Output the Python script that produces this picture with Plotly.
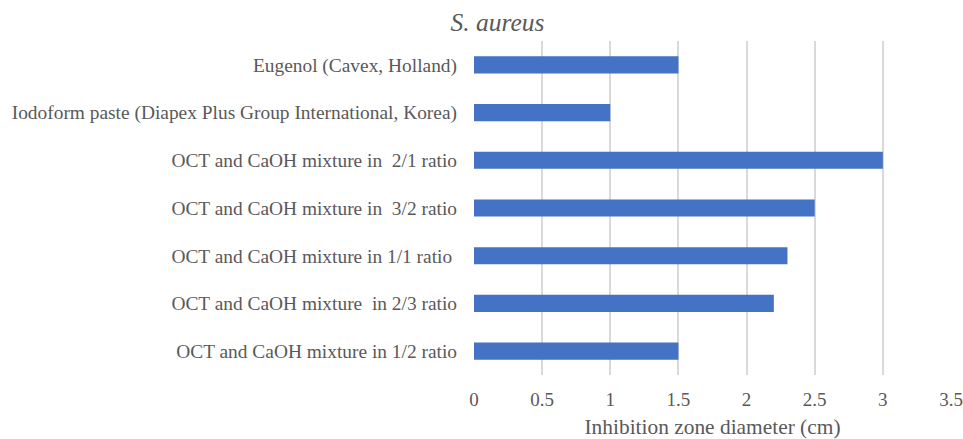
import plotly.graph_objects as go

NB = "\u00a0"
categories = [
    NB + "OCT and CaOH mixture in 1/2 ratio",
    "OCT and CaOH mixture" + NB + NB + "in 2/3 ratio",
    "OCT and CaOH mixture in 1/1 ratio" + NB,
    "OCT and CaOH mixture in" + NB + NB + "3/2 ratio",
    "OCT and CaOH mixture in" + NB + NB + "2/1 ratio",
    "Iodoform paste (Diapex Plus Group International, Korea)",
    "Eugenol (Cavex, Holland)",
]
values = [1.5, 2.2, 2.3, 2.5, 3.0, 1.0, 1.5]
x_ticks = [0, 0.5, 1, 1.5, 2, 2.5, 3, 3.5]
x_tick_labels = ["0", "0.5", "1", "1.5", "2", "2.5", "3", "3.5"]

font_family = "Liberation Serif"
grey = "#595959"

fig = go.Figure(go.Bar(
    y=categories, x=values, orientation="h",
    marker=dict(color="#4472C4", line=dict(width=0)),
))

fig.update_layout(
    template="none",
    width=963, height=439,
    margin=dict(l=474, r=12, t=41, b=64, autoexpand=False),
    paper_bgcolor="white", plot_bgcolor="white",
    bargap=0.64,
    showlegend=False,
    font=dict(family=font_family, color=grey, size=19),
    title=dict(
        text="<i>S. aureus</i>",
        font=dict(family=font_family, size=25.5, color=grey),
        xref="container", x=497.5 / 963, xanchor="center",
        yref="container", y=1 - 22 / 439, yanchor="middle",
    ),
    xaxis=dict(
        range=[0, 3.5], automargin=False,
        tickvals=x_ticks, ticktext=x_tick_labels,
        showgrid=True, gridcolor="#d9d9d9", gridwidth=2,
        zeroline=False, showline=False,
        ticks="", ticklabelstandoff=11,
        tickfont=dict(size=19, color=grey, family=font_family),
        title=dict(text="Inhibition zone diameter (cm)", standoff=10,
                   font=dict(size=21.4, color=grey, family=font_family)),
        fixedrange=True,
    ),
    yaxis=dict(
        categoryorder="array", categoryarray=categories, automargin=False,
        showgrid=False, zeroline=False, showline=False,
        ticks="", ticklabelstandoff=16,
        tickfont=dict(size=19.4, color=grey, family=font_family),
        fixedrange=True,
    ),
)

fig.write_html("out.html")
